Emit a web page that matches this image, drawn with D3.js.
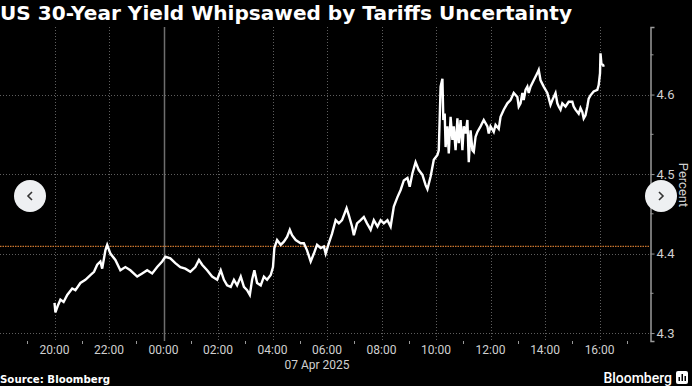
<!DOCTYPE html>
<html>
<head>
<meta charset="utf-8">
<script src="https://cdn.jsdelivr.net/npm/d3@7"></script>
<style>
  html, body { margin: 0; padding: 0; background: #000; }
  svg { display: block; }
</style>
</head>
<body>
<div id="chart"></div>
<script>
// US 30-year yield, 06 Apr 20:00 -> 07 Apr 16:09
const times = [
  "2025-04-06 20:00", "2025-04-06 20:02", "2025-04-06 20:07", "2025-04-06 20:13", "2025-04-06 20:20",
  "2025-04-06 20:28", "2025-04-06 20:39", "2025-04-06 20:46", "2025-04-06 20:57", "2025-04-06 21:08",
  "2025-04-06 21:19", "2025-04-06 21:27", "2025-04-06 21:34", "2025-04-06 21:41", "2025-04-06 21:45",
  "2025-04-06 21:52", "2025-04-06 21:56", "2025-04-06 22:03", "2025-04-06 22:14", "2025-04-06 22:25",
  "2025-04-06 22:36", "2025-04-06 22:47", "2025-04-06 23:02", "2025-04-06 23:13", "2025-04-06 23:24",
  "2025-04-06 23:35", "2025-04-06 23:46", "2025-04-06 23:57", "2025-04-07 00:04", "2025-04-07 00:15",
  "2025-04-07 00:26", "2025-04-07 00:37", "2025-04-07 00:48", "2025-04-07 00:59", "2025-04-07 01:10",
  "2025-04-07 01:18", "2025-04-07 01:25", "2025-04-07 01:36", "2025-04-07 01:47", "2025-04-07 01:58",
  "2025-04-07 02:06", "2025-04-07 02:13", "2025-04-07 02:20", "2025-04-07 02:28", "2025-04-07 02:35",
  "2025-04-07 02:42", "2025-04-07 02:50", "2025-04-07 02:57", "2025-04-07 03:04", "2025-04-07 03:10",
  "2025-04-07 03:15", "2025-04-07 03:20", "2025-04-07 03:26", "2025-04-07 03:34", "2025-04-07 03:41",
  "2025-04-07 03:48", "2025-04-07 03:56", "2025-04-07 04:01", "2025-04-07 04:04", "2025-04-07 04:10",
  "2025-04-07 04:18", "2025-04-07 04:25", "2025-04-07 04:32", "2025-04-07 04:38", "2025-04-07 04:43",
  "2025-04-07 04:51", "2025-04-07 05:02", "2025-04-07 05:09", "2025-04-07 05:16", "2025-04-07 05:24",
  "2025-04-07 05:31", "2025-04-07 05:38", "2025-04-07 05:46", "2025-04-07 05:53", "2025-04-07 05:57",
  "2025-04-07 06:04", "2025-04-07 06:11", "2025-04-07 06:19", "2025-04-07 06:26", "2025-04-07 06:33",
  "2025-04-07 06:43", "2025-04-07 06:48", "2025-04-07 06:55", "2025-04-07 06:59", "2025-04-07 07:06",
  "2025-04-07 07:14", "2025-04-07 07:21", "2025-04-07 07:28", "2025-04-07 07:36", "2025-04-07 07:43",
  "2025-04-07 07:51", "2025-04-07 07:58", "2025-04-07 08:05", "2025-04-07 08:13", "2025-04-07 08:20",
  "2025-04-07 08:27", "2025-04-07 08:35", "2025-04-07 08:42", "2025-04-07 08:49", "2025-04-07 08:57",
  "2025-04-07 09:02", "2025-04-07 09:08", "2025-04-07 09:15", "2025-04-07 09:22", "2025-04-07 09:30",
  "2025-04-07 09:37", "2025-04-07 09:41", "2025-04-07 09:48", "2025-04-07 09:55", "2025-04-07 10:03",
  "2025-04-07 10:06", "2025-04-07 10:10", "2025-04-07 10:14", "2025-04-07 10:16", "2025-04-07 10:19",
  "2025-04-07 10:21", "2025-04-07 10:25", "2025-04-07 10:28", "2025-04-07 10:32", "2025-04-07 10:36",
  "2025-04-07 10:39", "2025-04-07 10:43", "2025-04-07 10:47", "2025-04-07 10:50", "2025-04-07 10:54",
  "2025-04-07 10:58", "2025-04-07 11:01", "2025-04-07 11:05", "2025-04-07 11:09", "2025-04-07 11:12",
  "2025-04-07 11:16", "2025-04-07 11:20", "2025-04-07 11:23", "2025-04-07 11:27", "2025-04-07 11:31",
  "2025-04-07 11:38", "2025-04-07 11:45", "2025-04-07 11:53", "2025-04-07 11:56", "2025-04-07 12:00",
  "2025-04-07 12:07", "2025-04-07 12:11", "2025-04-07 12:18", "2025-04-07 12:22", "2025-04-07 12:29",
  "2025-04-07 12:37", "2025-04-07 12:44", "2025-04-07 12:51", "2025-04-07 12:59", "2025-04-07 13:02",
  "2025-04-07 13:06", "2025-04-07 13:10", "2025-04-07 13:13", "2025-04-07 13:17", "2025-04-07 13:21",
  "2025-04-07 13:24", "2025-04-07 13:28", "2025-04-07 13:35", "2025-04-07 13:43", "2025-04-07 13:46",
  "2025-04-07 13:50", "2025-04-07 13:57", "2025-04-07 14:05", "2025-04-07 14:12", "2025-04-07 14:16",
  "2025-04-07 14:23", "2025-04-07 14:27", "2025-04-07 14:30", "2025-04-07 14:34", "2025-04-07 14:38",
  "2025-04-07 14:45", "2025-04-07 14:52", "2025-04-07 15:00", "2025-04-07 15:03", "2025-04-07 15:07",
  "2025-04-07 15:14", "2025-04-07 15:18", "2025-04-07 15:22", "2025-04-07 15:25", "2025-04-07 15:29",
  "2025-04-07 15:33", "2025-04-07 15:36", "2025-04-07 15:40", "2025-04-07 15:47", "2025-04-07 15:55",
  "2025-04-07 15:58", "2025-04-07 16:01", "2025-04-07 16:02", "2025-04-07 16:04", "2025-04-07 16:08",
  "2025-04-07 16:09"
]

const yields = [
  4.338, 4.326, 4.334, 4.342, 4.339,
  4.348, 4.356, 4.354, 4.363, 4.367,
  4.373, 4.377, 4.386, 4.390, 4.381,
  4.404, 4.411, 4.400, 4.392, 4.379,
  4.383, 4.379, 4.371, 4.375, 4.379,
  4.375, 4.383, 4.390, 4.396, 4.394,
  4.388, 4.383, 4.381, 4.377, 4.383,
  4.392, 4.386, 4.379, 4.371, 4.367,
  4.379, 4.367, 4.360, 4.358, 4.367,
  4.360, 4.371, 4.358, 4.354, 4.348,
  4.367, 4.379, 4.363, 4.360, 4.371,
  4.367, 4.373, 4.383, 4.407, 4.417,
  4.411, 4.415, 4.421, 4.430, 4.423,
  4.417, 4.413, 4.413, 4.404, 4.390,
  4.400, 4.411, 4.407, 4.409, 4.400,
  4.413, 4.425, 4.442, 4.438, 4.442,
  4.457, 4.448, 4.434, 4.423, 4.438,
  4.442, 4.446, 4.438, 4.430, 4.442,
  4.434, 4.442, 4.438, 4.442, 4.434,
  4.459, 4.471, 4.480, 4.492, 4.495,
  4.484, 4.501, 4.515, 4.505, 4.499,
  4.486, 4.481, 4.497, 4.518, 4.524,
  4.530, 4.610, 4.620, 4.568, 4.576,
  4.534, 4.560, 4.526, 4.572, 4.543,
  4.560, 4.530, 4.570, 4.539, 4.568,
  4.530, 4.560, 4.551, 4.568, 4.515,
  4.555, 4.530, 4.528, 4.547, 4.553,
  4.560, 4.568, 4.560, 4.551, 4.560,
  4.553, 4.562, 4.557, 4.572, 4.581,
  4.589, 4.593, 4.602, 4.597, 4.585,
  4.589, 4.602, 4.593, 4.606, 4.610,
  4.602, 4.610, 4.618, 4.627, 4.631,
  4.618, 4.610, 4.602, 4.587, 4.593,
  4.602, 4.589, 4.585, 4.581, 4.589,
  4.585, 4.591, 4.591, 4.585, 4.581,
  4.576, 4.583, 4.578, 4.570, 4.574,
  4.585, 4.595, 4.599, 4.604, 4.606,
  4.612, 4.627, 4.652, 4.639, 4.637,
  4.635
]

const prevClose = 4.409
const yTicks = [4.3, 4.4, 4.5, 4.6]
const yMinorTicks = [4.35, 4.45, 4.55, 4.65]
const xTickLabels = ["20:00", "22:00", "00:00", "02:00", "04:00", "06:00", "08:00", "10:00", "12:00", "14:00", "16:00"]
const dateLabel = "07 Apr 2025"
const titleText = "US 30-Year Yield Whipsawed by Tariffs Uncertainty"
const sourceText = "Source: Bloomberg"

const parse = d3.timeParse("%Y-%m-%d %H:%M")
const data = times.map((t, i) => ({ t: parse(t), v: yields[i] }))

const width = 692
const height = 386
const plotLeft = 0
const plotRight = 650
const plotTop = 27
const plotBottom = 341

const svg = d3.select("#chart")
  .append("svg")
  .attr("width", width)
  .attr("height", height)
  .style("background-color", "#000")

const x = d3.scaleTime()
  .domain([parse("2025-04-06 18:00"), parse("2025-04-07 17:51")])
  .range([plotLeft, plotRight])

const y = d3.scaleLinear()
  .domain([4.29, 4.685])
  .range([plotBottom, plotTop])

const labelFont = "Roboto, 'Liberation Sans', sans-serif"

// horizontal grid
svg.append("g")
  .selectAll("line")
  .data(yTicks)
  .join("line")
  .attr("x1", plotLeft)
  .attr("x2", plotRight)
  .attr("y1", d => Math.round(y(d)) + 0.5)
  .attr("y2", d => Math.round(y(d)) + 0.5)
  .attr("stroke", "#5e5e5e")
  .attr("stroke-width", 1)
  .attr("stroke-dasharray", "1,2")

// vertical grid every 2 hours, solid at midnight
const gridTimes = d3.timeHour.every(2).range(parse("2025-04-06 20:00"), parse("2025-04-07 16:30"))
svg.append("g")
  .selectAll("line")
  .data(gridTimes)
  .join("line")
  .attr("x1", d => Math.round(x(d)) + 0.5)
  .attr("x2", d => Math.round(x(d)) + 0.5)
  .attr("y1", plotTop)
  .attr("y2", plotBottom)
  .attr("stroke", d => d.getHours() === 0 ? "#6e6e6e" : "#5e5e5e")
  .attr("stroke-width", d => d.getHours() === 0 ? 1.5 : 1)
  .attr("stroke-dasharray", d => d.getHours() === 0 ? null : "1,2")

// previous close line
svg.append("line")
  .attr("x1", plotLeft)
  .attr("x2", plotRight)
  .attr("y1", y(prevClose))
  .attr("y2", y(prevClose))
  .attr("stroke", "#c8742e")
  .attr("stroke-width", 1.2)
  .attr("stroke-dasharray", "1.5,1")

// yield line
const line = d3.line()
  .x(d => x(d.t))
  .y(d => y(d.v))

svg.append("path")
  .datum(data)
  .attr("d", line)
  .attr("fill", "none")
  .attr("stroke", "#fff")
  .attr("stroke-width", 2.4)
  .attr("stroke-linejoin", "miter")

// right axis
const yAxis = d3.axisRight(y)
  .tickValues(yTicks)
  .tickSize(4)
  .tickPadding(2)
  .tickFormat(d3.format(".1f"))

const gy = svg.append("g")
  .attr("transform", `translate(${plotRight + 0.5},0)`)
  .call(yAxis)
gy.select(".domain").attr("stroke", "#9a9a9a").attr("stroke-width", 1.5)
gy.selectAll(".tick line").attr("stroke", "#9a9a9a")
gy.selectAll(".tick text")
  .attr("fill", "#d0d0d0")
  .style("font-family", labelFont)
  .style("font-size", "13px")

gy.selectAll(".minor")
  .data(yMinorTicks)
  .join("line")
  .attr("class", "minor")
  .attr("x1", 0)
  .attr("x2", 3)
  .attr("y1", d => y(d))
  .attr("y2", d => y(d))
  .attr("stroke", "#9a9a9a")

svg.append("text")
  .attr("transform", `translate(679,185) rotate(90)`)
  .attr("text-anchor", "middle")
  .attr("fill", "#d0d0d0")
  .style("font-family", labelFont)
  .style("font-size", "13px")
  .text("Percent")

// bottom axis: labels at even hours, small ticks at odd hours
const oddHours = d3.timeHour.every(1).range(parse("2025-04-06 19:00"), parse("2025-04-07 17:30"))
  .filter(d => d.getHours() % 2 === 1)
svg.append("g")
  .selectAll("line")
  .data(oddHours)
  .join("line")
  .attr("x1", d => Math.round(x(d)) + 0.5)
  .attr("x2", d => Math.round(x(d)) + 0.5)
  .attr("y1", plotBottom)
  .attr("y2", plotBottom + 3)
  .attr("stroke", "#9a9a9a")

svg.append("g")
  .selectAll("text")
  .data(gridTimes)
  .join("text")
  .attr("x", d => x(d))
  .attr("y", 354)
  .attr("text-anchor", "middle")
  .attr("fill", "#d0d0d0")
  .style("font-family", labelFont)
  .style("font-size", "12px")
  .text((d, i) => xTickLabels[i])

svg.append("text")
  .attr("x", 317)
  .attr("y", 369)
  .attr("text-anchor", "middle")
  .attr("fill", "#d0d0d0")
  .style("font-family", labelFont)
  .style("font-size", "12px")
  .text(dateLabel)

// title
svg.append("text")
  .attr("x", 0)
  .attr("y", 20)
  .attr("fill", "#fff")
  .attr("textLength", 572)
  .attr("lengthAdjust", "spacingAndGlyphs")
  .style("font-family", "'DejaVu Sans', sans-serif")
  .style("font-weight", "bold")
  .style("font-size", "19px")
  .text(titleText)

// footer
svg.append("text")
  .attr("x", 0)
  .attr("y", 383)
  .attr("fill", "#fff")
  .attr("textLength", 110)
  .attr("lengthAdjust", "spacingAndGlyphs")
  .style("font-family", "'DejaVu Sans', sans-serif")
  .style("font-weight", "bold")
  .style("font-size", "11px")
  .text(sourceText)

svg.append("text")
  .attr("x", 672)
  .attr("y", 383)
  .attr("text-anchor", "end")
  .attr("fill", "#fff")
  .style("font-family", labelFont)
  .style("font-weight", "500")
  .style("font-size", "14px")
  .text("Bloomberg")

const logo = svg.append("g").attr("transform", "translate(676,371)")
logo.append("rect").attr("width", 12).attr("height", 13).attr("rx", 2).attr("fill", "#fff")
logo.selectAll(".bar")
  .data([[2.5, 6], [5.5, 3], [8.5, 5]])
  .join("rect")
  .attr("class", "bar")
  .attr("x", d => d[0])
  .attr("y", d => d[1])
  .attr("width", 1.5)
  .attr("height", d => 10 - d[1])
  .attr("fill", "#000")

// carousel buttons
const buttons = [{ cx: 30, dir: -1 }, { cx: 661, dir: 1 }]
const btn = svg.append("g")
  .selectAll("g")
  .data(buttons)
  .join("g")
  .attr("transform", d => `translate(${d.cx},196)`)
btn.append("circle")
  .attr("r", 16)
  .attr("fill", "#eef0f2")
btn.append("path")
  .attr("d", d => `M${-2 * d.dir},-4 L${2 * d.dir},0 L${-2 * d.dir},4`)
  .attr("fill", "none")
  .attr("stroke", "#333")
  .attr("stroke-width", 1.6)
</script>
</body>
</html>
